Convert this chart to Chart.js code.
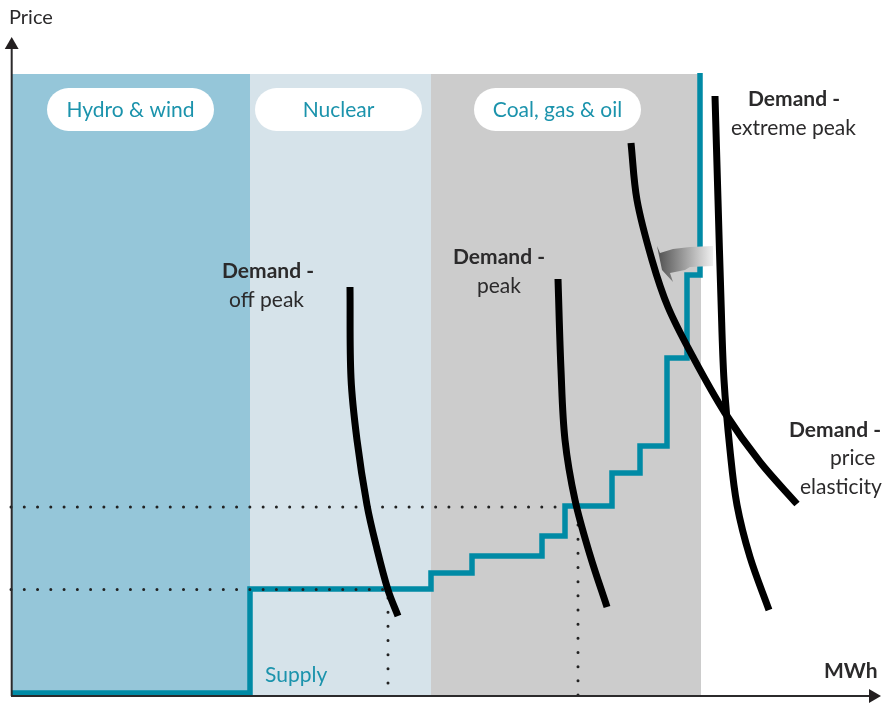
<!DOCTYPE html>
<html>
<head>
<meta charset="utf-8">
<title>Supply and demand</title>
<script src="https://cdn.jsdelivr.net/npm/chart.js@4"></script>
<style>
  html, body { margin: 0; padding: 0; background: #fff; }
  canvas { display: block; }
</style>
</head>
<body>
<canvas id="chart" width="884" height="703"></canvas>
<script>
// Generation bands (MWh range, top price)
const bandNames = ['Hydro & wind', 'Nuclear', 'Coal, gas & oil'];
const bandStart = [0, 238, 419];
const bandEnd = [238, 419, 689];
const bandTop = 621;

// Supply staircase
const supplyX = [0, 238, 238, 419, 419, 460, 460, 530, 530, 553, 553, 600, 600, 628, 628, 655, 655, 675, 675, 688, 688];
const supplyY = [2, 2, 106, 106, 122, 122, 139, 139, 159, 159, 189, 189, 222, 222, 249, 249, 337, 337, 420, 420, 622];

// Demand curves
const offPeakX = [338, 339, 345, 355, 364, 376, 386];
const offPeakY = [408, 317, 255, 190, 150, 105, 79];
const peakX = [546, 549, 553, 563, 578, 595];
const peakY = [416, 325, 255, 195, 140, 88];
const extremeX = [703, 706, 709, 712, 718, 725, 738, 757];
const extremeY = [599, 495, 395, 315, 245, 190, 138, 85];
const elasticX = [619, 625, 640, 656, 681, 713, 748, 785];
const elasticY = [552, 495, 435, 388, 338, 282, 233, 191];

// Dotted guides: market prices and the volumes they clear at
const lowPriceX = [-1, 373];
const lowPriceY = [105.5, 105.5];
const highPriceX = [-1, 556];
const highPriceY = [188, 188];
const lowVolumeX = [376, 376];
const lowVolumeY = [12, 105];
const highVolumeX = [566, 566];
const highVolumeY = [0, 188];

// Shift arrow between the peak and the elastic curve
const shiftX = [645, 648, 661, 678, 701, 701, 678, 673, 658, 661, 650, 645];
const shiftY = [449, 442, 446, 448, 449, 429, 428, 425, 422, 413, 425, 449];

// Axes
const axisPriceX = [-0.3, -0.3];
const axisPriceY = [-1, 650];
const axisVolumeX = [-1, 861];
const axisVolumeY = [-1, -1];

const TEAL = '#008aa5';
const TEAL_TEXT = '#1b93ac';
const INK = '#2b2a2b';
const FONT = 'Lato, "Open Sans", sans-serif';

function pts(xs, ys) {
  return xs.map((x, i) => ({ x: x, y: ys[i] }));
}

function plain(xs, ys, order, extra) {
  return Object.assign({
    data: pts(xs, ys),
    order: order,
    showLine: true,
    pointRadius: 0,
    fill: false,
    tension: 0
  }, extra);
}

function band(i, color) {
  return plain([bandStart[i], bandEnd[i]], [bandTop, bandTop], 90, {
    borderWidth: 0,
    backgroundColor: color,
    fill: 'origin'
  });
}

function dots(xs, ys) {
  return plain(xs, ys, 45, {
    borderColor: '#222',
    borderWidth: 3,
    borderDash: [0, xs[0] === xs[1] ? 14.17 : 13.27],
    borderCapStyle: 'round'
  });
}

function demand(xs, ys) {
  return plain(xs, ys, 10, {
    borderColor: '#000',
    borderWidth: 7,
    borderCapStyle: 'butt',
    borderJoinStyle: 'round',
    tension: 0.35
  });
}

function axis(xs, ys, rotation) {
  return plain(xs, ys, 5, {
    borderColor: INK,
    borderWidth: 2,
    pointRadius: [0, 8],
    pointStyle: 'triangle',
    pointRotation: rotation,
    pointBackgroundColor: '#231f20',
    pointBorderWidth: 0
  });
}

// Text labels: [text, left, baseline, bold, colour]
const textLabels = [
  ['Price', 9, 24, false, INK],
  ['MWh', 824, 678, true, INK],
  ['Supply', 265, 682, false, TEAL_TEXT],
  ['Demand -', 222, 278, true, INK],
  ['off peak', 229, 307, false, INK],
  ['Demand -', 453, 264, true, INK],
  ['peak', 477, 293, false, INK],
  ['Demand -', 748, 106, true, INK],
  ['extreme peak', 731, 135, false, INK],
  ['Demand -', 789, 437, true, INK],
  ['price', 830, 465, false, INK],
  ['elasticity', 800, 494, false, INK]
];
const pillLeft = [47, 255, 474];
const pillTop = 88;
const pillWidth = 167;
const pillHeight = 43;

const labelsPlugin = {
  id: 'labels',
  afterDatasetsDraw(chart) {
    const c = chart.ctx;
    c.save();
    c.font = '21px ' + FONT;
    c.textAlign = 'center';
    c.textBaseline = 'alphabetic';
    bandNames.forEach((name, i) => {
      c.fillStyle = '#fff';
      c.beginPath();
      c.roundRect(pillLeft[i], pillTop, pillWidth, pillHeight, pillHeight / 2);
      c.fill();
      c.fillStyle = TEAL_TEXT;
      c.fillText(name, pillLeft[i] + pillWidth / 2, pillTop + 29);
    });
    c.textAlign = 'left';
    textLabels.forEach(l => {
      c.font = (l[3] ? 'bold ' : '') + (l[0] === 'Price' ? '20px ' : '21px ') + FONT;
      c.fillStyle = l[4];
      c.fillText(l[0], l[1], l[2]);
    });
    c.restore();
  }
};

new Chart(document.getElementById('chart'), {
  type: 'scatter',
  data: {
    datasets: [
      band(0, '#95c6d9'),
      band(1, '#d6e3ea'),
      band(2, '#cccccc'),
      plain(shiftX, shiftY, 40, {
        borderWidth: 0,
        fill: 'shape',
        backgroundColor(ctx) {
          const s = ctx.chart.scales.x;
          const a = s ? s.getPixelForValue(645) : NaN;
          if (!isFinite(a)) return '#999';
          const g = ctx.chart.ctx.createLinearGradient(a, 0, s.getPixelForValue(701), 0);
          g.addColorStop(0, '#4f4f4f');
          g.addColorStop(1, '#f0f0f0');
          return g;
        }
      }),
      dots(lowPriceX, lowPriceY),
      dots(highPriceX, highPriceY),
      dots(lowVolumeX, lowVolumeY),
      dots(highVolumeX, highVolumeY),
      plain(supplyX, supplyY, 50, {
        borderColor: TEAL,
        borderWidth: 5.5,
        borderCapStyle: 'butt',
        borderJoinStyle: 'miter'
      }),
      demand(offPeakX, offPeakY),
      demand(peakX, peakY),
      demand(extremeX, extremeY),
      demand(elasticX, elasticY),
      axis(axisPriceX, axisPriceY, 0),
      axis(axisVolumeX, axisVolumeY, 90)
    ]
  },
  options: {
    responsive: false,
    animation: false,
    layout: { padding: 0, autoPadding: false },
    plugins: { legend: { display: false }, tooltip: { enabled: false } },
    scales: {
      x: { type: 'linear', min: -12, max: 872, display: false },
      y: { type: 'linear', min: -8, max: 695, display: false }
    }
  },
  plugins: [labelsPlugin]
});
</script>
</body>
</html>
